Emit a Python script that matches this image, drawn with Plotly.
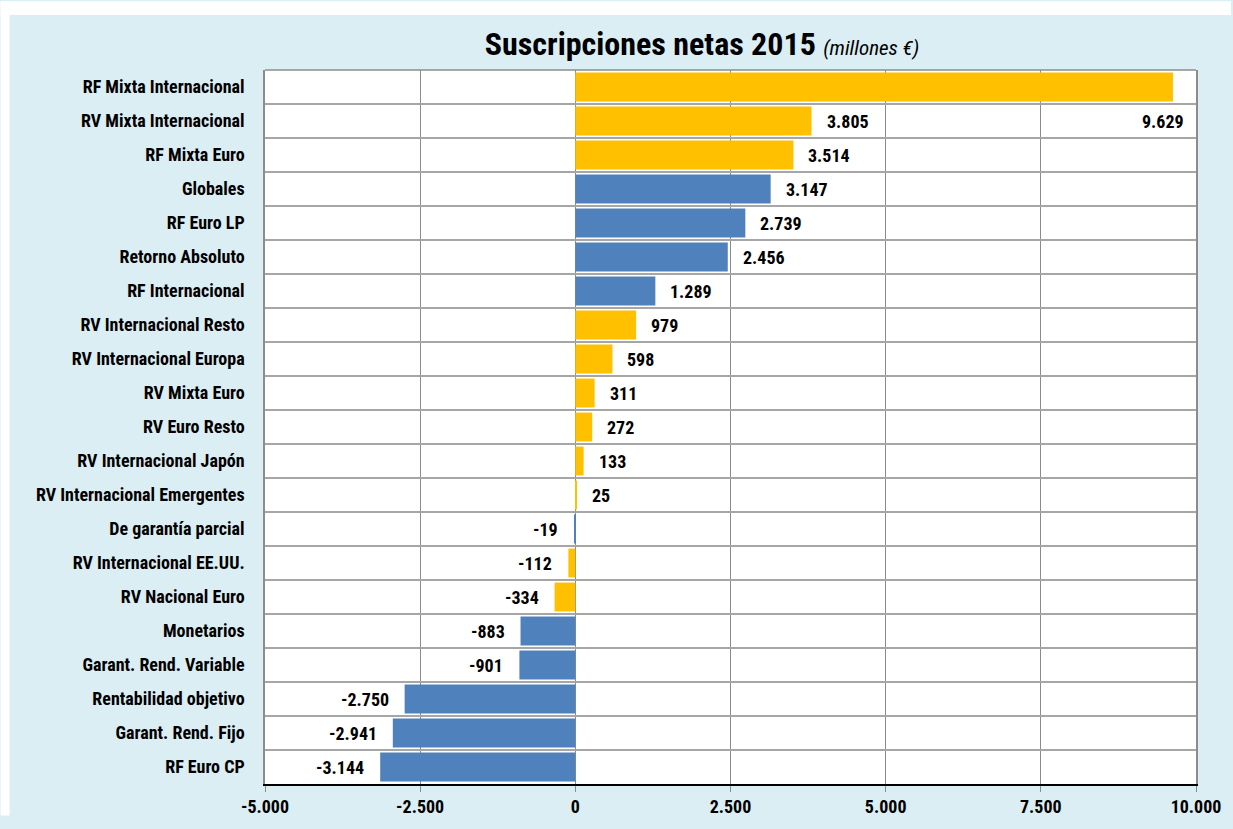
import plotly.graph_objects as go

categories = [
    "RF Mixta Internacional", "RV Mixta Internacional", "RF Mixta Euro", "Globales",
    "RF Euro LP", "Retorno Absoluto", "RF Internacional", "RV Internacional Resto",
    "RV Internacional Europa", "RV Mixta Euro", "RV Euro Resto", "RV Internacional Japón",
    "RV Internacional Emergentes", "De garantía parcial", "RV Internacional EE.UU.",
    "RV Nacional Euro", "Monetarios", "Garant. Rend. Variable", "Rentabilidad objetivo",
    "Garant. Rend. Fijo", "RF Euro CP",
]
values = [9629, 3805, 3514, 3147, 2739, 2456, 1289, 979, 598, 311, 272, 133, 25,
          -19, -112, -334, -883, -901, -2750, -2941, -3144]
groups = ["amarillo", "amarillo", "amarillo", "azul", "azul", "azul", "azul", "amarillo",
          "amarillo", "amarillo", "amarillo", "amarillo", "amarillo", "azul", "amarillo",
          "amarillo", "azul", "azul", "azul", "azul", "azul"]
x_ticks = [-5000, -2500, 0, 2500, 5000, 7500, 10000]
x_tick_labels = ["-5.000", "-2.500", "0", "2.500", "5.000", "7.500", "10.000"]

COLORS = {"amarillo": "#FFC000", "azul": "#4F81BD"}
FONT = "Liberation Sans Narrow, Arial Narrow, Roboto Condensed, DejaVu Sans Condensed, sans-serif"
BG = "#DBEEF4"
XMIN, XMAX = -5000, 10000


def fmt(v):
    s = f"{abs(v):,}".replace(",", ".")
    return ("-" if v < 0 else "") + s


fig = go.Figure()
fig.add_trace(go.Bar(
    x=values, y=categories, orientation="h",
    marker=dict(color=[COLORS[g] for g in groups], line=dict(width=0)),
    hoverinfo="x+y",
))

W, H = 1233, 829
ml, mr, mt, mb = 265, 35, 70, 32
pw, ph = W - ml - mr, H - mt - mb
row_px = ph / len(categories)

annotations = []
for cat, v in zip(categories, values):
    lab = f"<b>{fmt(v)}</b>"
    if v >= 0:
        # does the label fit to the right of the bar?
        if v + 60 / (pw / (XMAX - XMIN)) > XMAX:
            annotations.append(dict(x=v, y=cat, text=lab, showarrow=False, xanchor="right",
                                    xshift=13, yshift=-row_px))
        else:
            annotations.append(dict(x=v, y=cat, text=lab, showarrow=False, xanchor="left",
                                    xshift=13))
    else:
        annotations.append(dict(x=v, y=cat, text=lab, showarrow=False, xanchor="right",
                                xshift=-14))

fig.update_layout(
    width=W, height=H,
    margin=dict(l=ml, r=mr, t=mt, b=mb, pad=0),
    paper_bgcolor=BG, plot_bgcolor="white",
    font=dict(family=FONT, size=18, color="#000000"),
    bargap=0.15,
    showlegend=False,
    title=dict(
        text="<b>Suscripciones netas 2015</b> <span style='font-size:21px'><i>(millones €)</i></span>",
        font=dict(family=FONT, size=32, color="#000000"),
        x=702 / W, xanchor="center", xref="container",
        y=1 - 44 / H, yanchor="middle", yref="container",
    ),
    xaxis=dict(
        range=[XMIN, XMAX], tickvals=x_ticks, ticktext=[f"<b>{t}</b>" for t in x_tick_labels],
        showgrid=True, gridcolor="#8C8C8C", gridwidth=1,
        zeroline=False, showline=True, linecolor="#000000", linewidth=1.5,
        ticks="outside", ticklen=6, tickcolor="#8C8C8C", tickwidth=1,
        tickfont=dict(size=18), fixedrange=True,
    ),
    yaxis=dict(
        type="category", range=[len(categories) - 0.5, -0.5], tickson="boundaries",
        showgrid=True, gridcolor="#A6A6A6", gridwidth=2,
        showline=True, mirror=True, linecolor="#8C8C8C", linewidth=1.5,
        ticks="", ticklabelstandoff=15,
        tickvals=categories, ticktext=[f"<b>{c}</b>" for c in categories],
        tickfont=dict(size=18), fixedrange=True,
    ),
    annotations=annotations,
    shapes=[
        dict(type="line", xref="paper", yref="paper", x0=0, x1=1, y0=1, y1=1,
             line=dict(color="#8C8C8C", width=1.5), layer="above"),
        # white strips around the light-blue panel (top 14px, left 9px)
        dict(type="rect", xref="paper", yref="paper",
             x0=-ml / pw, x1=(W - ml) / pw, y0=1 + (mt - 14) / ph, y1=1 + mt / ph,
             fillcolor="white", line=dict(width=0), layer="below"),
        dict(type="rect", xref="paper", yref="paper",
             x0=-ml / pw, x1=-(ml - 9) / pw, y0=-mb / ph, y1=1 + mt / ph,
             fillcolor="white", line=dict(width=0), layer="below"),
    ],
)

fig.write_html("out.html")
